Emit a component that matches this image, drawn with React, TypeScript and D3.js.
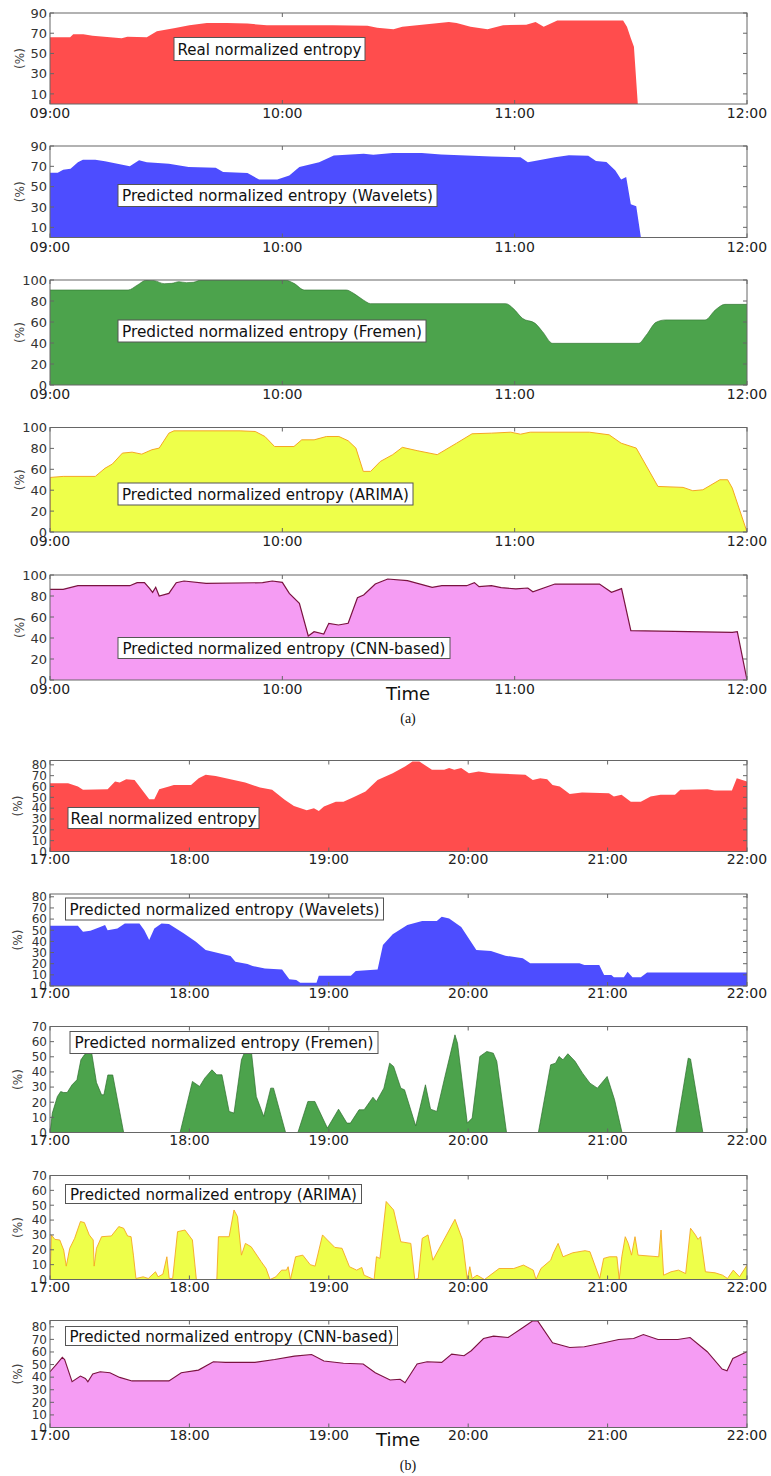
import React from 'react';
import * as d3 from 'd3';

type Pt = [number, number];

const morningTicks = ['09:00', '10:00', '11:00', '12:00'];
const eveningTicks = ['17:00', '18:00', '19:00', '20:00', '21:00', '22:00'];

// (a) 09:00-12:00, minutes since 09:00, value in %
const realA: Pt[] = [[0,66],[5.2,66],[6,69],[8.6,69],[11,67.5],[18.5,65],[20,66.5],[25,66],[27.6,72],[32,75],[36,78],[40.5,80],[45.7,80],[51,79.5],[56,78],[64.6,78],[73,78],[82,77.5],[84.5,75.5],[88.7,74],[91,76.5],[103,81],[105,80],[108.6,76.5],[113,74],[117,78],[123,78.5],[125.4,81],[127.5,76.5],[131,82.5],[148,82.5],[149,76.5],[150,65],[150.8,56.6],[151.8,0],[180,0]];
const waveletsA: Pt[] = [[0,63.7],[2,63.7],[3.4,66.7],[5.3,67.6],[7.2,74],[8.5,76.5],[11.7,76.5],[14.2,75],[20.6,70],[23,76],[25,74],[30.7,72.5],[35.8,69.3],[42.8,68.6],[44.7,64.4],[51,63.4],[54,57],[58.7,57],[61.8,61],[64.4,69.3],[69.5,74],[73.3,80.7],[81,82.4],[83.5,81.4],[88.5,83],[96,83],[101,81.7],[114,79.7],[121.5,79],[123.4,74],[130.4,79],[134,81],[139,80.4],[141,75.2],[143.7,74.2],[146,66],[147.5,57],[148.8,59.5],[150,32.7],[151.4,30.7],[152.6,0],[180,0]];
const fremenA: Pt[] = [[0,90.5],[20.2,90.5],[22.5,95],[25,100],[27,99.4],[29.5,96.5],[31.4,96.8],[33.3,98.4],[35.2,97.5],[37,97.8],[39,100],[60.6,100],[63,96.8],[65.7,90.5],[76.5,90.5],[78.4,87.3],[80.9,81],[82.8,77.5],[117.7,77.5],[119.6,73],[122,63.5],[125.3,58.7],[127.2,50.8],[129.8,39.7],[152,39.7],[154,47.6],[156.5,59.7],[159,62],[169.2,62],[171.8,71.4],[174.3,76.8],[180,76.8]];
const arimaA: Pt[] = [[0,0],[0.05,52.2],[3.4,53.2],[11.7,53.2],[14.2,61],[16.1,65],[18.7,75.5],[21.2,76.4],[23.7,74.5],[26.3,78.7],[28.2,80.3],[30.7,94.6],[32,96.8],[49.1,96.8],[53,96.2],[55.5,91.4],[58,81.8],[63,81.8],[65,88.2],[68.2,88.2],[71.4,91.4],[74.6,91.4],[77,87.3],[79,80.3],[80.9,58],[82.8,58],[85.3,67.5],[88.5,74],[91,81],[95,77.7],[100,74],[105,85],[109,94],[114,94.6],[119,95.5],[121.5,93.6],[124,95.5],[139.3,95.5],[144.4,93],[147.5,85],[151.4,80.3],[157,43.6],[163.5,42.7],[166,39.5],[168.6,40.4],[173,50],[175,50],[176.2,42],[180,0]];
const cnnA: Pt[] = [[0,86.3],[3.4,86.3],[7.2,89.8],[20.6,89.8],[22.5,92.7],[24.4,92.7],[25.7,87.3],[26.5,83.5],[27.3,88.3],[28.2,80],[30.7,82.5],[32.6,92.7],[34.6,94.3],[40.3,92],[54.9,92.7],[57.4,94.3],[60,93],[61.8,82.5],[64.4,73],[66.7,41.9],[68.2,46],[70.7,43.8],[72,54],[74.5,52.4],[77,54],[79.4,78.4],[81,81],[84,91.4],[87.2,96.2],[92.3,94.6],[98.7,88.3],[101.2,89.8],[107.6,89.8],[109.6,92.7],[110.8,88.9],[114,89.8],[116.5,88],[120.3,86.7],[123.4,87.6],[124.7,84],[130.4,91.4],[141.9,91.4],[145,83.5],[147.6,87],[150,47],[176.2,45.4],[177.5,46],[180,0]];

// (b) 17:00-22:00, minutes since 17:00, value in %
const realB: Pt[] = [[0,63],[7.8,63],[12,60],[14.2,57],[24.8,57.5],[28,64.6],[30,63.7],[32.8,66.8],[36.4,66],[39.6,57],[42.7,48.3],[44.9,48.3],[47,57.5],[51.2,60],[53.3,61.5],[60.7,61.5],[64,67.7],[67,70.8],[71.3,69.8],[84,63.7],[90.4,59],[95.6,57],[101,47.7],[105,42],[110.5,38],[113.6,40],[115.7,37.5],[117.9,41.5],[123,46],[126.3,46],[130.6,50],[135.8,55.4],[141,66],[147.5,72.3],[152.8,78.5],[156,83],[159,83],[164.4,75.4],[169.7,75.4],[171.8,77],[174,75.4],[177,77],[180.3,72.3],[184.5,73.8],[189.8,72.3],[204.6,70.8],[207.8,66],[211,67.7],[214,66.8],[216.3,61.5],[219.4,60],[223.7,53],[229,54.5],[240.6,53.8],[242.7,50.8],[246,52.3],[250,46],[254.3,46],[258.5,50.8],[262.8,52.3],[269,52.3],[271.3,57],[273.4,57],[283,57.5],[286,56.3],[293.5,56.3],[295.6,67.7],[300,64.6]];
const waveletsB: Pt[] = [[0,54],[12,54],[14.2,48.7],[17.4,49.6],[21.6,53],[23.7,54.6],[24.8,50],[29,51.6],[32.2,56],[38.5,56],[40.6,50],[42.7,41.2],[44.9,51.6],[48,56],[51.2,55.5],[57.5,47.2],[62.8,39.7],[67,32.2],[77.7,26.9],[79.8,21.8],[85,19.7],[87.2,17.9],[92.5,15.8],[99.9,14.9],[103,6],[106,5.4],[107.7,3],[114.7,3],[115.7,9.3],[129.5,9.3],[131.6,13.4],[141,14.9],[143.3,36.7],[147.5,46.3],[153.8,54.6],[160.2,58.2],[166.5,58.2],[168.6,62],[171.8,60.6],[177,53],[183.5,32.2],[189.8,31.3],[196,27.2],[203.5,24.8],[206.7,20.3],[227.9,20.3],[230,18.8],[236.4,18.8],[238.5,9.9],[241.6,9.9],[242.7,7.8],[247,7.8],[248.6,12.8],[250.7,7.8],[254.3,7.8],[257,12.2],[300,12.2]];
const fremenB: Pt[] = [[0,0],[1,12.8],[3.2,23.8],[4.6,27],[5.9,26.4],[7.4,26.4],[9.5,31.5],[11.6,34.8],[13.3,48],[14.8,51.3],[16.5,53.5],[16.9,55],[18,52],[20,33],[22.2,24.9],[23.2,24.9],[24.9,38],[27,38],[31.7,0],[56,0],[61.3,33.7],[64.4,30.4],[66.6,35.9],[69.7,41.4],[71.8,38.1],[74,38.1],[77.1,13.9],[79.2,12.8],[82.4,48],[84.5,55.7],[86.6,54.6],[88.8,23.8],[92,10.6],[95,29.3],[96.2,29.3],[101.4,0],[106.7,0],[111,20.5],[114,20.5],[119.4,2.9],[124.2,15.4],[127.8,6.2],[129.3,6.2],[133,15],[135.2,15],[139,23.3],[140.5,20.5],[143.7,29.3],[146.2,45.8],[147.9,43.6],[151,29.3],[152.6,28.2],[157.4,4.4],[161.6,31.5],[163.8,15.4],[166.5,13.9],[170,37],[174.3,64.5],[175.4,59],[179.6,6.2],[181.7,9.5],[185,50.2],[188,53.5],[190.8,52.4],[192.3,47],[196.5,0],[210.2,0],[215.5,44.7],[217.6,45.8],[219.1,50.2],[220.8,48],[222.9,52],[226,47],[229.2,39.2],[232.4,32.6],[235.6,29.3],[239.8,37],[243,21.6],[246.2,0],[269.4,0],[274.7,49.1],[275.7,48.5],[281,0],[299.5,0],[300,3]];
const arimaB: Pt[] = [[0,0],[0.6,30],[2.1,27],[4.2,26.6],[5.9,19.8],[7,9],[8.5,21],[10.6,27.7],[13.1,39],[14.8,38.3],[16.9,30],[18.6,26.6],[19,9],[20,21],[22.2,28.8],[26.4,29.3],[29.6,35.6],[31.7,34.5],[33.4,29.3],[34.9,28.8],[35.9,16.4],[37,0.7],[40.1,1.8],[42.3,0.7],[45.4,5.2],[46.5,1.8],[48.6,3.6],[50.3,15.3],[51.3,0.7],[52.8,0.7],[54.9,32.2],[58.1,33.3],[61.3,26.6],[63,0],[71.8,0],[72.5,28.8],[77.1,28.8],[79.2,46.8],[80.7,42.3],[82.4,16.4],[84.1,24.3],[86.6,22],[90.9,12],[93,7.4],[94.7,0],[97.2,1.8],[99.7,6.3],[101.8,6.3],[102.5,8.6],[103.5,0],[105.7,15.3],[108.8,16.4],[112,10],[114.1,9],[117.3,30],[119.4,26.6],[122.6,21.6],[125.7,21],[128.9,8.6],[132,6.3],[134.2,8.1],[135.2,2.9],[139.5,0],[140.5,15.3],[142,14.2],[144.7,52.5],[147.9,46.8],[151,25.4],[155.3,24.3],[157,0],[158.5,0.7],[160.2,27.7],[162.7,30],[164.8,13],[174.3,40.5],[177.5,27],[179.6,0],[180.7,8.6],[181.7,0.7],[183.8,2.9],[187,0],[193.3,7.4],[199.6,7.4],[203.8,9.7],[208,6.3],[209.2,0],[211.3,7.4],[215.5,13],[216.6,17.6],[218.7,24.3],[220.8,15.3],[225,18],[230.3,19.4],[232.4,18.7],[236.6,0.7],[238.3,14.2],[240.8,15.3],[244,15.3],[245,0],[246.1,15.3],[247.6,28.8],[248.9,24.3],[250.3,16.4],[251.8,28.8],[253.1,16.4],[262,15.3],[263,33.3],[264.1,2.9],[267.3,5.2],[270.5,6.3],[273.6,4],[275.7,34.5],[277.8,30],[278.9,27],[280,28.8],[282.1,5.2],[286.3,4.5],[289.5,2.9],[291.6,0.7],[294.1,6.3],[296.8,1.8],[300,9.7]];
const cnnB: Pt[] = [[0,44.3],[2.5,49.6],[5.3,55.7],[6.3,54],[9.5,36.4],[13.1,40.9],[15.2,39],[16.3,36.4],[18.4,42.5],[21.6,44.3],[25.8,43.5],[30,39.8],[35.3,37],[51.2,37],[56.5,43.5],[63.9,45.6],[70.3,52.2],[75.5,51.7],[88.2,51.7],[96.7,54],[105.2,56.7],[112.6,58],[117.9,52.8],[126.3,51],[134.8,50.4],[140,43.5],[146.4,37.7],[150.7,38.3],[152.8,35.6],[158,50.4],[162.3,52.2],[168.6,51.7],[172.9,58.3],[178.2,57],[181.3,61],[186.6,70.7],[190.9,72.6],[197.2,71.5],[203.6,79.4],[207.8,84.7],[209.9,84.7],[216.3,67.3],[223.7,63.6],[230,64.1],[238.5,67.3],[244.8,69.9],[251.2,70.7],[255.4,73.9],[261.7,69.9],[270.2,69.9],[275.5,71.5],[282.9,60.2],[289.3,46.4],[291.4,45.1],[293.9,54.9],[300,60.2]];

const labels = [
  'Real normalized entropy',
  'Predicted normalized entropy (Wavelets)',
  'Predicted normalized entropy (Fremen)',
  'Predicted normalized entropy (ARIMA)',
  'Predicted normalized entropy (CNN-based)',
];

const RED = '#ff4d4d', BLUE = '#4d4dff', GREEN = '#4ca34c', YELLOW = '#eeff4a', PINK = '#f59cf3';

interface Panel {
  data: Pt[]; label: string; top: number; bottom: number; ymax: number; yticks: number[];
  morning: boolean; fill: string; stroke: string; strokeW: number; smooth?: boolean;
  box: [number, number, number, number]; textW: number; yFont: number;
}

const r = (a: number, b: number, s: number) => d3.range(a, b + 0.001, s);

const panels: Panel[] = [
  { data: realA, label: labels[0], top: 13, bottom: 104, ymax: 90, yticks: r(10, 90, 20), morning: true, fill: RED, stroke: 'none', strokeW: 0, box: [174, 37.5, 191, 23], textW: 184, yFont: 13 },
  { data: waveletsA, label: labels[1], top: 146, bottom: 237.5, ymax: 90, yticks: r(10, 90, 20), morning: true, fill: BLUE, stroke: 'none', strokeW: 0, box: [118, 184.5, 319, 22], textW: 311, yFont: 13 },
  { data: fremenA, label: labels[2], top: 280, bottom: 385, ymax: 100, yticks: r(0, 100, 20), morning: true, fill: GREEN, stroke: '#2e6e2e', strokeW: 0.6, smooth: true, box: [118, 320, 308, 22], textW: 300, yFont: 13 },
  { data: arimaA, label: labels[3], top: 427.5, bottom: 532, ymax: 100, yticks: r(0, 100, 20), morning: true, fill: YELLOW, stroke: '#f5a623', strokeW: 1, box: [118, 483, 295, 22], textW: 287, yFont: 13 },
  { data: cnnA, label: labels[4], top: 575, bottom: 680, ymax: 100, yticks: r(0, 100, 20), morning: true, fill: PINK, stroke: '#7a1340', strokeW: 1.2, box: [118, 637.5, 332, 21], textW: 323, yFont: 13 },
  { data: realB, label: labels[0], top: 760.5, bottom: 851.5, ymax: 84, yticks: r(0, 80, 10), morning: false, fill: RED, stroke: 'none', strokeW: 0, box: [68, 807.5, 191, 21], textW: 186, yFont: 12 },
  { data: waveletsB, label: labels[1], top: 894, bottom: 986, ymax: 82.5, yticks: r(0, 80, 10), morning: false, fill: BLUE, stroke: 'none', strokeW: 0, box: [65.5, 898, 318, 22], textW: 310, yFont: 12 },
  { data: fremenB, label: labels[2], top: 1026.5, bottom: 1132.5, ymax: 70, yticks: r(0, 70, 10), morning: false, fill: GREEN, stroke: '#2e6e2e', strokeW: 0.7, box: [70, 1031.5, 308, 22], textW: 299, yFont: 12 },
  { data: arimaB, label: labels[3], top: 1175.5, bottom: 1279.5, ymax: 70, yticks: r(0, 70, 10), morning: false, fill: YELLOW, stroke: '#f5a623', strokeW: 0.9, box: [65.5, 1184.5, 296, 19], textW: 287, yFont: 12 },
  { data: cnnB, label: labels[4], top: 1320.5, bottom: 1427.5, ymax: 85, yticks: r(0, 80, 10), morning: false, fill: PINK, stroke: '#7a1340', strokeW: 1.1, box: [65.5, 1326.5, 332, 19], textW: 324, yFont: 12 },
];

const LEFT = 50, RIGHT = 747;
const FONT = "'DejaVu Sans', sans-serif";

function PanelView({ p, i }: { p: Panel; i: number }) {
  const span = p.morning ? 180 : 300;
  const tickLabels = p.morning ? morningTicks : eveningTicks;
  const x = d3.scaleLinear().domain([0, span]).range([LEFT, RIGHT]);
  const y = d3.scaleLinear().domain([0, p.ymax]).range([p.bottom, p.top]);
  const area = d3.area<Pt>().x(d => x(d[0])).y0(y(0)).y1(d => y(d[1]))
    .curve(p.smooth ? d3.curveMonotoneX : d3.curveLinear);
  const line = d3.line<Pt>().x(d => x(d[0])).y(d => y(d[1]))
    .curve(p.smooth ? d3.curveMonotoneX : d3.curveLinear);
  const xt = tickLabels.map((_, k) => k * 60);
  const clipId = `clip${i}`;
  const tl = 4;
  const xLabelY = p.bottom + (p.morning ? 14 : 12);
  return (
    <g>
      <defs>
        <clipPath id={clipId}>
          <rect x={LEFT} y={p.top} width={RIGHT - LEFT} height={p.bottom - p.top} />
        </clipPath>
      </defs>
      <g clipPath={`url(#${clipId})`}>
        <path d={area(p.data) || ''} fill={p.fill} />
        {p.stroke !== 'none' && (
          <path d={line(p.data) || ''} fill="none" stroke={p.stroke} strokeWidth={p.strokeW} />
        )}
      </g>
      <rect x={LEFT} y={p.top} width={RIGHT - LEFT} height={p.bottom - p.top} fill="none" stroke="#666" strokeWidth={1} />
      {p.yticks.map(v => (
        <g key={'y' + v}>
          <line x1={LEFT} x2={LEFT + tl} y1={y(v)} y2={y(v)} stroke="#666" />
          <line x1={RIGHT} x2={RIGHT - tl} y1={y(v)} y2={y(v)} stroke="#666" />
          <text x={LEFT - 3} y={y(v) + p.yFont * 0.36} textAnchor="end" fontSize={p.yFont} fill="#333" fontFamily={FONT}>{v}</text>
        </g>
      ))}
      {xt.map((m, k) => (
        <g key={'x' + m}>
          <line x1={x(m)} x2={x(m)} y1={p.bottom} y2={p.bottom - tl} stroke="#666" />
          <line x1={x(m)} x2={x(m)} y1={p.top} y2={p.top + tl} stroke="#666" />
          <text x={x(m)} y={xLabelY} textAnchor="middle" fontSize={14} fill="#222" fontFamily={FONT}>{tickLabels[k]}</text>
        </g>
      ))}
      <text transform={`translate(${p.morning ? 24 : 22},${(p.top + p.bottom) / 2}) rotate(-90)`} textAnchor="middle" fontSize={12} fill="#444" fontFamily={FONT}>(%)</text>
      <rect x={p.box[0]} y={p.box[1]} width={p.box[2]} height={p.box[3]} fill="#fff" stroke="#555" strokeWidth={1} />
      <text x={p.box[0] + (p.box[2] - p.textW) / 2} y={p.box[1] + p.box[3] / 2 + 5.5} fontSize={15} fill="#111" fontFamily={FONT}
        textLength={p.textW} lengthAdjust="spacingAndGlyphs">{p.label}</text>
    </g>
  );
}

export default function App() {
  return (
    <svg width={771} height={1476} style={{ position: 'absolute', left: 0, top: 0, background: '#fff' }}>
      <rect x={0} y={0} width={771} height={1476} fill="#fff" />
      {panels.map((p, i) => <PanelView key={i} p={p} i={i} />)}
      <text x={408} y={700} textAnchor="middle" fontSize={18} fill="#111" fontFamily={FONT}>Time</text>
      <text x={408} y={723} textAnchor="middle" fontSize={14} fill="#111" fontFamily="'Liberation Serif', 'DejaVu Serif', serif">(a)</text>
      <text x={398} y={1446} textAnchor="middle" fontSize={18} fill="#111" fontFamily={FONT}>Time</text>
      <text x={408} y={1470} textAnchor="middle" fontSize={14} fill="#111" fontFamily="'Liberation Serif', 'DejaVu Serif', serif">(b)</text>
    </svg>
  );
}
